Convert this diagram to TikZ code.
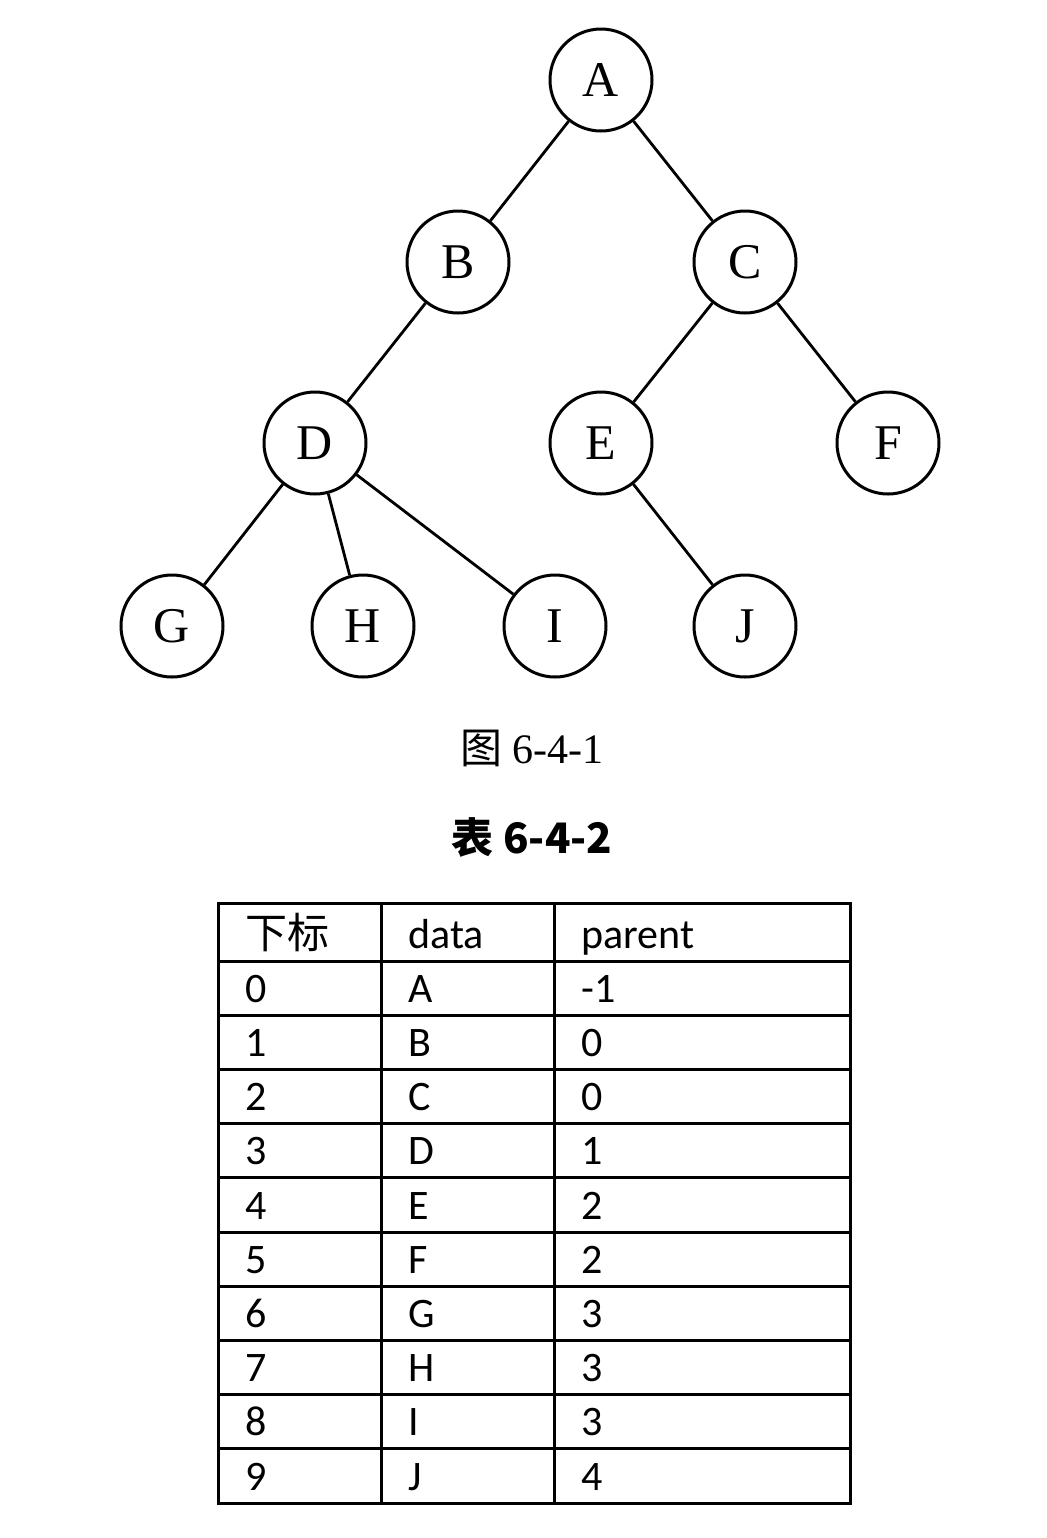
\documentclass[tikz,border=0pt]{standalone}
\usepackage{fontspec}
\setmainfont{Liberation Serif}
\newfontfamily\tabfont{Carlito}
\newfontfamily\cjk{Noto Sans CJK SC}
\begin{document}
\begin{tikzpicture}[x=0.5pt,y=-0.5pt,
  tnode/.style={circle,draw,line width=1.5pt,minimum size=51pt,inner sep=0pt,font=\fontsize{25}{25}\selectfont},
  tedge/.style={line width=1.4pt},
  grid/.style={line width=1.5pt},
  cell/.style={anchor=base west,inner sep=0pt,font=\tabfont\fontsize{21}{21}\selectfont}]
\useasboundingbox (0,0) rectangle (1046,1538);
% tree
\node[tnode] (A) at (601,80) {A};
\node[tnode] (B) at (458,262) {B};
\node[tnode] (C) at (745,262) {C};
\node[tnode] (D) at (315,443) {D};
\node[tnode] (E) at (601,443) {E};
\node[tnode] (F) at (888,443) {F};
\node[tnode] (G) at (172,626) {G};
\node[tnode] (H) at (363,626) {H};
\node[tnode] (I) at (555,626) {I};
\node[tnode] (J) at (745,626) {J};
\draw[tedge] (A) -- (B);
\draw[tedge] (A) -- (C);
\draw[tedge] (B) -- (D);
\draw[tedge] (C) -- (E);
\draw[tedge] (C) -- (F);
\draw[tedge] (D) -- (G);
\draw[tedge] (D) -- (H);
\draw[tedge] (D) -- (I);
\draw[tedge] (E) -- (J);
% captions
\node (cap1) at (532,748) {\fontsize{21}{21}\selectfont{\cjk 图} 6-4-1};
\node (cap2) at (532,838) {\cjk\bfseries\fontsize{21}{21}\selectfont 表 6-4-2};
% table grid
\draw[grid] (218,903) rectangle (850,1503);
\foreach \x in {381,554} \draw[grid] (\x,903) -- (\x,1503);
\foreach \y in {961,1015,1069,1123,1177,1232,1286,1340,1394,1448} \draw[grid] (218,\y) -- (850,\y);
% header
\node[cell] (h1) at (245,948) {{\cjk 下标}};
\node[cell] (h2) at (408,948) {data};
\node[cell] (h3) at (581,948) {parent};
% rows
\foreach \i/\d/\p/\b in {0/A/-1/1002,1/B/0/1056,2/C/0/1110,3/D/1/1164,4/E/2/1219,5/F/2/1273,6/G/3/1327,7/H/3/1381,8/I/3/1435,9/J/4/1490}{
  \node[cell] (r\i a) at (245,\b) {\i};
  \node[cell] (r\i b) at (408,\b) {\d};
  \node[cell] (r\i c) at (581,\b) {\p};
}
\end{tikzpicture}
\end{document}
